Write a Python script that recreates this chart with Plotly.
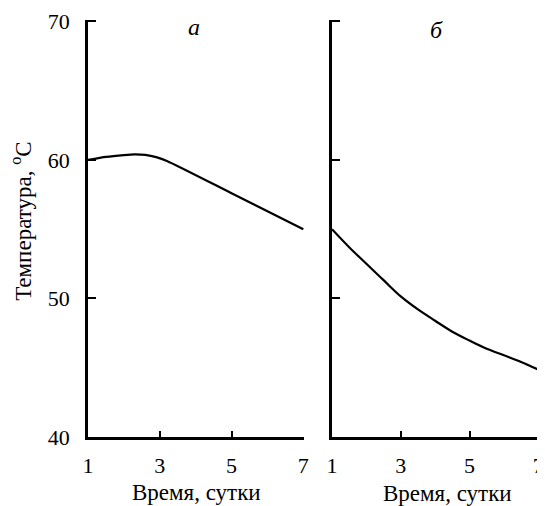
import plotly.graph_objects as go

# Data
days_a = [1, 1.5, 2, 2.3, 2.6, 2.9, 3.2, 5, 7]
temp_a = [60.0, 60.22, 60.35, 60.4, 60.36, 60.2, 59.93, 57.6, 55.0]

days_b = [1, 1.5, 2, 2.5, 3, 3.5, 4, 4.5, 5, 5.5, 6, 6.5, 7]
temp_b = [55.0, 53.7, 52.5, 51.32, 50.15, 49.21, 48.39, 47.6, 46.96, 46.37, 45.9, 45.42, 44.86]

x_ticks = [1, 3, 5, 7]
y_ticks = [40, 50, 60, 70]

FONT = "Liberation Serif, Times New Roman, serif"

fig = go.Figure()
fig.add_trace(go.Scatter(x=days_a, y=temp_a, mode="lines", line=dict(color="black", width=2.2, shape="spline", smoothing=0.6),
                         xaxis="x", yaxis="y", showlegend=False, cliponaxis=False))
fig.add_trace(go.Scatter(x=days_b, y=temp_b, mode="lines", line=dict(color="black", width=2.2, shape="spline", smoothing=1.0),
                         xaxis="x2", yaxis="y2", showlegend=False, cliponaxis=False))

axis_common = dict(showgrid=False, zeroline=False, showline=True, linecolor="black", linewidth=2.5,
                   ticks="inside", tickcolor="black", tickwidth=2, automargin=False,
                   ticklabeloverflow="allow",
                   tickfont=dict(family=FONT, size=22, color="black"))

# page body has an 8px default margin, so the figure is sized/offset to compensate
fig.update_layout(
    width=537, height=498,
    margin=dict(l=80, r=6, t=12, b=69),
    paper_bgcolor="white", plot_bgcolor="white",
    xaxis=dict(domain=[0, 0.479], range=[1, 7.02], tickvals=x_ticks, ticklen=6, anchor="y",
               ticklabelstandoff=7, **axis_common),
    yaxis=dict(domain=[0, 1], range=[40, 70.1], tickvals=y_ticks, ticklen=8, anchor="x",
               ticklabelstandoff=11, **axis_common),
    xaxis2=dict(domain=[0.541, 1], range=[1, 7.02], tickvals=x_ticks, ticklen=6, anchor="y2",
                ticklabelstandoff=7, **axis_common),
    yaxis2=dict(domain=[0, 1], range=[40, 70.1], tickvals=y_ticks, ticklen=8, anchor="x2",
                showticklabels=False, **axis_common),
    annotations=[
        dict(text="а", xref="paper", yref="paper", x=0.235, y=0.983, showarrow=False,
             xanchor="center", yanchor="middle",
             font=dict(family=FONT, size=24, color="black", style="italic")),
        dict(text="б", xref="paper", yref="paper", x=0.772, y=0.976, showarrow=False,
             xanchor="center", yanchor="middle",
             font=dict(family=FONT, size=24, color="black", style="italic")),
        dict(text="Время, сутки", xref="paper", yref="paper", x=0.2395, y=0, yshift=-55,
             xanchor="center", yanchor="middle",
             showarrow=False, font=dict(family=FONT, size=23, color="black")),
        dict(text="Время, сутки", xref="paper", yref="paper", x=0.797, y=0, yshift=-56,
             xanchor="center", yanchor="middle",
             showarrow=False, font=dict(family=FONT, size=23, color="black")),
        dict(text="Температура, <sup>o</sup>С", xref="paper", yref="paper", x=0, xshift=-66,
             y=0.516, textangle=-90, showarrow=False, xanchor="center", yanchor="middle",
             font=dict(family=FONT, size=23, color="black")),
    ],
)

fig.write_html("out.html")
